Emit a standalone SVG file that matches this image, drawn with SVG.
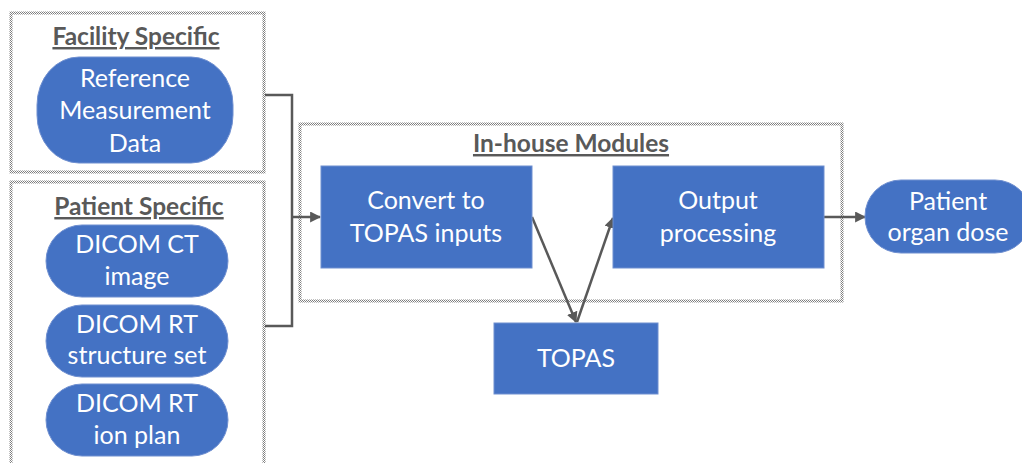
<svg xmlns="http://www.w3.org/2000/svg" width="1022" height="463" viewBox="0 0 1022 463">
<defs>
<pattern id="chk" width="2" height="2" patternUnits="userSpaceOnUse">
<rect width="2" height="2" fill="#ffffff"/>
<rect width="1" height="1" fill="#7f7f7f"/>
<rect x="1" y="1" width="1" height="1" fill="#7f7f7f"/>
</pattern>
<marker id="ah" viewBox="0 0 10 10" refX="9" refY="5" markerWidth="4.4" markerHeight="4.4" orient="auto" markerUnits="strokeWidth">
<path d="M0,0 L10,5 L0,10 Z" fill="#595959"/>
</marker>
</defs>
<style>
.grp{fill:#ffffff;stroke:url(#chk);stroke-width:3}
.node{fill:#4472C4;stroke:#6f8fd0;stroke-width:1}
.t{font-family:Lato,"Open Sans","Liberation Sans",sans-serif;font-size:25px;fill:#ffffff;text-anchor:middle}
.h{font-family:Lato,"Open Sans","Liberation Sans",sans-serif;font-size:24.5px;font-weight:bold;fill:#595959;text-anchor:middle;text-decoration:underline}
.c{fill:none;stroke:#595959;stroke-width:2.5}
</style>
<rect width="1022" height="463" fill="#ffffff"/>

<g id="facility-group">
<rect class="grp" x="11" y="13" width="253" height="159"/>
<text class="h" x="136" y="45">Facility Specific</text>
</g>
<g id="patient-group">
<rect class="grp" x="11" y="182" width="253" height="300"/>
<text class="h" x="139" y="215">Patient Specific</text>
</g>
<g id="inhouse-group">
<rect class="grp" x="300" y="124" width="542" height="177"/>
<text class="h" x="571" y="152">In-house Modules</text>
</g>

<g id="connectors">
<polyline class="c" points="265,95 292,95 292,326 265,326"/>
<line class="c" x1="292" y1="217" x2="320" y2="217" marker-end="url(#ah)"/>
<line class="c" x1="532" y1="217" x2="576" y2="322" marker-end="url(#ah)"/>
<line class="c" x1="577" y1="322" x2="613" y2="218" marker-end="url(#ah)"/>
<line class="c" x1="824" y1="217" x2="865" y2="217" marker-end="url(#ah)"/>
</g>

<g id="ref-data">
<rect class="node" x="37" y="57" width="196" height="106" rx="42" ry="48"/>
<text class="t" x="135" y="87">Reference</text>
<text class="t" x="135" y="119">Measurement</text>
<text class="t" x="135" y="152">Data</text>
</g>
<g id="dicom-ct">
<rect class="node" x="46" y="225" width="182" height="72" rx="36" ry="36"/>
<text class="t" x="137" y="253">DICOM CT</text>
<text class="t" x="137" y="285">image</text>
</g>
<g id="dicom-struct">
<rect class="node" x="46" y="305" width="182" height="72" rx="36" ry="36"/>
<text class="t" x="137" y="333">DICOM RT</text>
<text class="t" x="137" y="364">structure set</text>
</g>
<g id="dicom-plan">
<rect class="node" x="46" y="384" width="182" height="72" rx="36" ry="36"/>
<text class="t" x="137" y="412">DICOM RT</text>
<text class="t" x="137" y="444">ion plan</text>
</g>
<g id="convert">
<rect class="node" x="321" y="166" width="211" height="102"/>
<text class="t" x="426" y="209">Convert to</text>
<text class="t" x="426" y="242">TOPAS inputs</text>
</g>
<g id="output">
<rect class="node" x="613" y="166" width="211" height="102"/>
<text class="t" x="718" y="209">Output</text>
<text class="t" x="718" y="242">processing</text>
</g>
<g id="topas">
<rect class="node" x="494" y="323" width="164" height="71"/>
<text class="t" x="576" y="367">TOPAS</text>
</g>
<g id="organ-dose">
<rect class="node" x="865" y="180" width="166" height="73" rx="36" ry="36"/>
<text class="t" x="948" y="210">Patient</text>
<text class="t" x="948" y="241">organ dose</text>
</g>
</svg>
